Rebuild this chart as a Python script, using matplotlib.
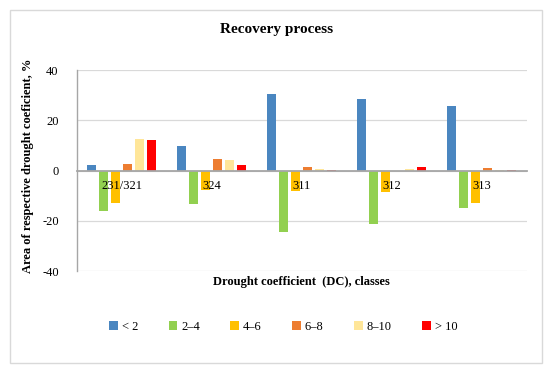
import matplotlib
matplotlib.use("Agg")
import matplotlib.pyplot as plt
from matplotlib.patches import Rectangle
import numpy as np

# data
groups = ["231/321", "324", "311", "312", "313"]
classes = ["< 2", "2\u20134", "4\u20136", "6\u20138", "8\u201310", "> 10"]
lt2 = [2.1, 9.8, 30.3, 28.4, 25.8]
c2_4 = [-16.0, -13.2, -24.4, -21.3, -15.0]
c4_6 = [-13.1, -7.9, -8.0, -8.4, -13.0]
c6_8 = [2.4, 4.6, 1.5, 0.0, 1.0]
c8_10 = [12.4, 4.2, 0.5, 0.5, 0.3]
gt10 = [12.0, 2.1, 0.3, 1.2, 0.4]
series = [lt2, c2_4, c4_6, c6_8, c8_10, gt10]
colors = ["#4A86C0", "#92D050", "#FFC000", "#ED7D31", "#FFE699", "#FF0000"]

plt.rcParams["font.family"] = ["Liberation Serif", "DejaVu Serif"]
plt.rcParams["axes.unicode_minus"] = False

fig = plt.figure(figsize=(5.5, 3.72), dpi=100)
ax = fig.add_axes([0.1395, 0.2715, 0.818, 0.5403])

# outer chart border
fig.patches.append(Rectangle((10 / 550, 1 - 363 / 372), 532 / 550, 353 / 372,
                             transform=fig.transFigure, fill=False,
                             edgecolor="#d9d9d9", linewidth=1.0))

x = np.arange(len(groups))
step, width = 0.134, 0.1
for i, (vals, col, lab) in enumerate(zip(series, colors, classes)):
    ax.bar(x + (i - 2.5) * step, vals, width, color=col, label=lab, zorder=3)

ax.set_xlim(-0.5, len(groups) - 0.5)
ax.set_ylim(-40, 40)
ax.set_yticks([-40, -20, 0, 20, 40])
ax.yaxis.grid(True, color="#d9d9d9", linewidth=0.9, zorder=0)
ax.tick_params(axis="y", length=0, labelsize=9, pad=13)
ax.set_xticks([])

# category labels sit just under the zero line, drawn over the bars
for xi, g in zip(x, groups):
    ax.text(xi, -3.9, g, ha="center", va="top", fontsize=9, zorder=5)

ax.spines["bottom"].set_position(("data", 0))
ax.spines["bottom"].set_color("#a6a6a6")
ax.spines["bottom"].set_linewidth(1.3)
ax.spines["bottom"].set_zorder(4)
ax.spines["left"].set_color("#a6a6a6")
ax.spines["left"].set_linewidth(1.0)
ax.spines["top"].set_visible(False)
ax.spines["right"].set_visible(False)

fig.text(0.503, 1 - 30 / 372, "Recovery process", ha="center", va="center",
         fontsize=11, fontweight="bold")
fig.text(0.5485, 1 - 282 / 372, "Drought coefficient  (DC), classes",
         ha="center", va="center", fontsize=9, fontweight="bold")
fig.text(28 / 550, 1 - 166 / 372, "Area of respective drought coeficient, %",
         ha="center", va="center", rotation=90, fontsize=9, fontweight="bold")

fig.legend(loc="center", bbox_to_anchor=(0.515, 1 - 327 / 372), ncol=6,
           frameon=False, fontsize=9, handlelength=0.7, handleheight=0.7,
           handletextpad=0.3, columnspacing=2.45)

fig.savefig("out.png", dpi=100)
